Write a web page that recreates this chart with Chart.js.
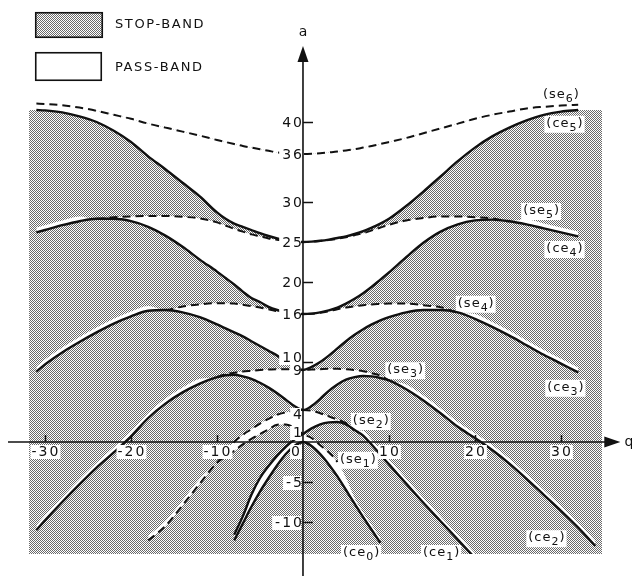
<!DOCTYPE html>
<html>
<head>
<meta charset="utf-8">
<title>Mathieu stability chart</title>
<script src="https://cdn.jsdelivr.net/npm/chart.js@4.4.1/dist/chart.umd.min.js"></script>
<style>
  html, body { margin: 0; padding: 0; background: #fff; }
  canvas { display: block; }
</style>
</head>
<body>
<canvas id="chart" width="632" height="576"></canvas>
<script>
const n = null;

// q sample points shared by every characteristic curve
const qGrid = [-31, -30, -28, -26, -24, -22, -20, -18, -16, -14, -12,
               -10, -9, -8, -7, -6, -5, -4, -3, -2, -1, 0, 1, 2, 3, 4, 5, 6, 7, 8, 9, 10,
               12, 14, 16, 18, 20, 22, 24, 26, 28, 30, 32, 34];

// characteristic values a(q) of the even (ce) and odd (se) Mathieu functions
const ce0 = [n, n, n, n, n, n, n, n, n, n, n,
             n, n, -12.3, -10.2, -8.1, -6.2, -4.5, -2.9, -1.5, -0.5, 0, -0.5, -1.5, -2.8, -4.3, -6.0, -7.7, -9.4, -11.0, -12.6, n,
             n, n, n, n, n, n, n, n, n, n, n, n];
const se1 = [n, n, n, n, n, n, n, -12.3, -10.5, -7.9, -5.2,
             -2.6, -1.8, -1.1, -0.3, 0.4, 1.0, 1.6, 2.15, 2.2, 1.8, 1, 0.5, -0.4, -1.3, -2.5, -4.5, -7.0, -8.8, -10.4, -12.0, n,
             n, n, n, n, n, n, n, n, n, n, n, n];
const ce1 = [n, n, n, n, n, n, n, n, n, n, n,
             n, n, -11.6, -9.3, -6.6, -4.5, -3.0, -1.7, -0.6, 0.3, 1, 1.7, 2.2, 2.45, 2.5, 2.2, 1.5, 0.8, -0.35, -1.6, -2.8,
             -5.2, -7.6, -9.9, -12.2, -14.5, n, n, n, n, n, n, n];
const se2 = [n, n, n, n, n, n, n, -11.7, -9.9, -7.3, -4.6,
             -2.6, -1.2, 0.0, 0.9, 1.6, 2.3, 2.9, 3.4, 3.7, 3.9, 4, 3.9, 3.6, 3.2, 2.8, 2.35, 1.5, 1.4, 0.25, -1.0, -2.2,
             -4.6, -7.0, -9.3, -11.6, -13.9, n, n, n, n, n, n, n];
const ce2 = [-11.0, -9.8, -7.5, -5.3, -3.2, -1.3, 0.7, 3.0, 4.8, 6.2, 7.3,
             8.1, 8.35, 8.4, 8.2, 7.9, 7.4, 6.8, 6.1, 5.3, 4.5, 4, 4.5, 5.4, 6.4, 7.2, 7.8, 8.1, 8.25, 8.2, 8.0, 7.7,
             6.6, 5.2, 3.6, 1.9, 0.5, -1.0, -2.7, -4.6, -6.6, -8.6, -10.7, -13.0];
const se3 = [-10.4, -9.2, -6.9, -4.7, -2.6, -0.7, 1.3, 3.6, 5.4, 6.8, 7.9,
             8.1, 8.5, 8.65, 8.8, 8.9, 9.0, 9.05, 9.1, 9.1, 9.05, 9, 9.05, 9.1, 9.15, 9.15, 9.1, 9.0, 8.85, 8.6, 8.3, 7.7,
             7.2, 5.8, 4.2, 2.5, 1.1, -0.4, -2.1, -4.0, -6.0, -8.0, -10.1, -12.4];
const ce3 = [8.8, 9.7, 11.2, 12.5, 13.7, 14.8, 15.7, 16.4, 16.5, 16.2, 15.6,
             14.7, 14.2, 13.7, 13.2, 12.6, 12.0, 11.4, 10.8, 10.1, 9.5, 9, 9.4, 10.0, 10.8, 11.7, 12.6, 13.4, 14.1, 14.7, 15.2, 15.6,
             16.2, 16.5, 16.5, 16.2, 15.4, 14.4, 13.3, 12.1, 10.9, 9.8, 8.7, n];
const se4 = [9.4, 10.3, 11.8, 13.1, 14.3, 15.4, 16.3, 17.0, 16.5, 16.95, 17.2,
             17.35, 17.35, 17.3, 17.15, 17.0, 16.8, 16.6, 16.35, 16.15, 16.03, 16, 16.03, 16.15, 16.35, 16.6, 16.8, 16.95, 17.1, 17.2, 17.25, 17.3,
             17.3, 17.1, 16.85, 16.2, 16.0, 15.0, 13.9, 12.7, 11.5, 10.4, 9.3, n];
const ce4 = [26.2, 26.5, 27.1, 27.6, 27.9, 27.9, 27.6, 26.9, 25.8, 24.4, 22.8,
             21.3, 20.5, 19.7, 18.8, 18.0, 17.5, 16.9, 16.5, 16.2, 16.05, 16, 16.05, 16.2, 16.45, 16.8, 17.3, 17.9, 18.6, 19.4, 20.3, 21.2,
             23.1, 24.9, 26.3, 27.2, 27.7, 27.8, 27.6, 27.2, 26.7, 26.2, 25.7, n];
const se5 = [26.8, 27.1, 27.7, 28.2, 27.9, 28.1, 28.2, 28.25, 28.25, 28.15, 27.95,
             27.45, 27.05, 26.65, 26.3, 25.95, 25.7, 25.45, 25.28, 25.12, 25.03, 25, 25.03, 25.12, 25.25, 25.4, 25.6, 25.85, 26.1, 26.45, 26.8, 27.15,
             27.7, 28.0, 28.2, 28.2, 28.1, 27.95, 27.6, 27.8, 27.3, 26.8, 26.3, n];
const ce5 = [41.5, 41.45, 41.2, 40.7, 40.0, 38.9, 37.5, 35.7, 34.1, 32.4, 30.7,
             28.7, 27.9, 27.3, 26.9, 26.5, 26.1, 25.75, 25.45, 25.2, 25.05, 25, 25.05, 25.15, 25.3, 25.5, 25.7, 26.0, 26.35, 26.8, 27.3, 27.9,
             29.5, 31.3, 33.2, 35.1, 36.8, 38.2, 39.3, 40.2, 40.9, 41.3, 41.5, n];
const se6 = [42.3, 42.25, 42.1, 41.8, 41.4, 40.9, 40.4, 39.8, 39.3, 38.8, 38.3,
             37.75, 37.5, 37.25, 37.0, 36.8, 36.6, 36.4, 36.2, 36.1, 36.03, 36, 36.03, 36.1, 36.2, 36.3, 36.45, 36.6, 36.8, 37.0, 37.25, 37.5,
             38.0, 38.6, 39.2, 39.8, 40.4, 40.9, 41.3, 41.7, 41.9, 42.05, 42.15, n];

const curves = { ce0, se1, ce1, se2, ce2, se3, ce3, se4, ce4, se5, ce5, se6 };
const curveOrder = ['ce0', 'se1', 'ce1', 'se2', 'ce2', 'se3', 'ce3', 'se4', 'ce4', 'se5', 'ce5', 'se6'];

// q-range where each dashed curve is drawn; past it the curve runs along its solid neighbour
const dashedSpan = { se1: [-18, 4], se2: [-10, 6], se3: [-10, 10], se4: [-16, 18], se5: [-24, 24], se6: [-31, 32] };

// unshaded regions: [upper curve, lower curve or 'end' for the top edge, side of the a-axis]
const passBands = [
  ['se1', 'ce0', 'right'], ['ce1', 'ce0', 'left'],
  ['se2', 'se1', 'left'], ['se2', 'ce1', 'right'],
  ['se3', 'ce2', 'both'], ['se4', 'ce3', 'both'],
  ['se5', 'ce4', 'both'], ['se6', 'ce5', 'both'],
  ['se6', 'end', 'both']
];

// axis annotation
const yTickLabels = [40, 36, 30, 25, 20, 16, 10, 9, 4, 1, -5, -10];
const yTickMarks = [40, 30, 20, 10, -5, -10];
const xTickLabels = [-30, -20, -10, 0, 10, 20, 30];
const xTickMarks = [-30, -20, -10, 10, 20, 30];
const axisNames = { y: 'a', x: 'q' };
const legendLabels = ['STOP-BAND', 'PASS-BAND'];

// curve names, anchored at (q, a) of the label's left edge / baseline
const curveLabels = [
  { name: 'se', sub: '6', q: 27.9, a: 43.0 },
  { name: 'ce', sub: '5', q: 28.3, a: 39.4 },
  { name: 'se', sub: '5', q: 25.6, a: 28.5 },
  { name: 'ce', sub: '4', q: 28.3, a: 23.75 },
  { name: 'se', sub: '4', q: 18.0, a: 16.9 },
  { name: 'ce', sub: '3', q: 28.4, a: 6.4 },
  { name: 'se', sub: '3', q: 9.8, a: 8.6 },
  { name: 'se', sub: '2', q: 5.8, a: 2.25 },
  { name: 'se', sub: '1', q: 4.3, a: -2.6 },
  { name: 'ce', sub: '0', q: 4.65, a: -14.25 },
  { name: 'ce', sub: '1', q: 13.95, a: -14.25 },
  { name: 'ce', sub: '2', q: 26.2, a: -12.4 }
];

const INK = '#111111';
const HIDDEN = 'rgba(0,0,0,0)';
const FONT = '"DejaVu Sans", "Liberation Sans", sans-serif';

// stop-band stipple: a fine checker of grey dots
function makeStipple(ctx) {
  const tile = document.createElement('canvas');
  tile.width = 2; tile.height = 2;
  const t = tile.getContext('2d');
  t.fillStyle = '#ffffff'; t.fillRect(0, 0, 2, 2);
  t.fillStyle = '#6a6a6a'; t.fillRect(0, 0, 1, 1); t.fillRect(1, 1, 1, 1);
  return ctx.createPattern(tile, 'repeat');
}

function points(values, side) {
  const out = [];
  qGrid.forEach((q, i) => {
    const a = values[i];
    if (a === null) return;
    if (side === 'left' && q > 0) return;
    if (side === 'right' && q < 0) return;
    out.push({ x: q, y: a });
  });
  return out;
}

const datasets = curveOrder.map(name => {
  const dashed = name.startsWith('se');
  const ds = {
    label: name,
    data: points(curves[name], 'both'),
    borderColor: INK,
    borderWidth: dashed ? 2.0 : 2.4,
    borderDash: dashed ? [8, 5] : [],
    pointRadius: 0,
    fill: false,
    cubicInterpolationMode: 'monotone',
    clip: { left: 0, right: 0, top: 60, bottom: 0 }
  };
  if (dashed) {
    const span = dashedSpan[name];
    ds.segment = {
      borderColor: c => (c.p0.parsed.x < span[0] - 1e-6 || c.p1.parsed.x > span[1] + 1e-6) ? HIDDEN : INK
    };
  }
  return ds;
});

passBands.forEach(([upper, lower, side]) => {
  datasets.push({
    label: upper + '-' + lower,
    data: points(curves[upper], side),
    borderColor: HIDDEN,
    borderWidth: 1,
    backgroundColor: '#ffffff',
    pointRadius: 0,
    fill: lower === 'end' ? 'end' : curveOrder.indexOf(lower),
    cubicInterpolationMode: 'monotone'
  });
});

function whiteBox(ctx, x, y, w, h) {
  ctx.fillStyle = '#ffffff';
  ctx.fillRect(x, y, w, h);
}

function curveLabelMetrics(ctx, lab) {
  ctx.letterSpacing = '1px';
  ctx.font = '13px ' + FONT;
  const w1 = ctx.measureText('(' + lab.name).width;
  const w3 = ctx.measureText(')').width;
  ctx.font = '11px ' + FONT;
  const w2 = ctx.measureText(lab.sub).width;
  return { w1, w2, w3, w: w1 + w2 + w3 };
}

const decor = {
  id: 'decor',
  beforeDraw(chart) {
    const { ctx, chartArea: ar } = chart;
    chart.$stipple = chart.$stipple || makeStipple(ctx);
    ctx.save();
    ctx.fillStyle = chart.$stipple;
    ctx.fillRect(ar.left, ar.top, ar.right - ar.left, ar.bottom - ar.top);
    ctx.restore();
  },
  beforeDatasetsDraw(chart) {
    // clear the stipple behind the curve names
    const { ctx, scales: { x, y } } = chart;
    ctx.save();
    curveLabels.forEach(lab => {
      const m = curveLabelMetrics(ctx, lab);
      const px = x.getPixelForValue(lab.q), py = y.getPixelForValue(lab.a);
      whiteBox(ctx, px - 2, py - 11, m.w + 3, 17);
    });
    ctx.restore();
  },
  afterDatasetsDraw(chart) {
    const { ctx, scales: { x, y } } = chart;
    const x0 = x.getPixelForValue(0), y0 = y.getPixelForValue(0);
    ctx.save();
    ctx.strokeStyle = INK; ctx.fillStyle = INK;

    // a-axis with arrow
    ctx.lineWidth = 1.6;
    ctx.beginPath();
    ctx.moveTo(x0, y.getPixelForValue(47.6));
    ctx.lineTo(x0, y.getPixelForValue(-17));
    ctx.stroke();
    const tipY = y.getPixelForValue(49.5);
    ctx.beginPath();
    ctx.moveTo(x0, tipY); ctx.lineTo(x0 - 5.5, tipY + 16); ctx.lineTo(x0 + 5.5, tipY + 16); ctx.closePath(); ctx.fill();

    // q-axis with arrow
    ctx.beginPath();
    ctx.moveTo(x.getPixelForValue(-34.3), y0);
    ctx.lineTo(x.getPixelForValue(35.2), y0);
    ctx.stroke();
    const tipX = x.getPixelForValue(36.9);
    ctx.beginPath();
    ctx.moveTo(tipX, y0); ctx.lineTo(tipX - 16, y0 - 5.5); ctx.lineTo(tipX - 16, y0 + 5.5); ctx.closePath(); ctx.fill();

    // tick marks
    ctx.lineWidth = 1.5;
    yTickMarks.forEach(v => {
      const py = Math.round(y.getPixelForValue(v)) + 0.5;
      ctx.beginPath(); ctx.moveTo(x0, py); ctx.lineTo(x0 + 10, py); ctx.stroke();
    });
    xTickMarks.forEach(v => {
      const px = Math.round(x.getPixelForValue(v)) + 0.5;
      ctx.beginPath(); ctx.moveTo(px, y0); ctx.lineTo(px, y0 - 7); ctx.stroke();
    });

    // tick labels
    ctx.font = '14px ' + FONT;
    ctx.letterSpacing = '2px';
    ctx.textBaseline = 'middle';
    const yNudge = { 10: -5, 4: 4, 1: -2 };
    yTickLabels.forEach(v => {
      const txt = String(v);
      const w = ctx.measureText(txt).width;
      const py = y.getPixelForValue(v) + 1 + (yNudge[v] || 0);
      whiteBox(ctx, x0 - w - 2, py - 7, w, 14);
      ctx.fillStyle = INK;
      ctx.textAlign = 'right';
      ctx.fillText(txt, x0 + 1, py);
    });
    xTickLabels.forEach(v => {
      const txt = String(v);
      const w = ctx.measureText(txt).width;
      const py = y0 + 10;
      let left = x.getPixelForValue(v) - w / 2 + 1;
      if (v === 0) left = x0 - w - 1;
      whiteBox(ctx, left - 1, py - 7, w + 1, 14);
      ctx.fillStyle = INK;
      ctx.textAlign = 'left';
      ctx.fillText(txt, left, py);
    });

    // axis names
    ctx.letterSpacing = '0px';
    ctx.font = '14px ' + FONT;
    ctx.textAlign = 'center';
    ctx.fillText(axisNames.y, x0, y.getPixelForValue(51.2));
    ctx.textAlign = 'left';
    ctx.fillText(axisNames.x, x.getPixelForValue(37.4), y0);

    // curve names with subscripts
    ctx.textAlign = 'left';
    ctx.textBaseline = 'alphabetic';
    curveLabels.forEach(lab => {
      const m = curveLabelMetrics(ctx, lab);
      const px = x.getPixelForValue(lab.q), py = y.getPixelForValue(lab.a);
      ctx.fillStyle = INK;
      ctx.font = '13px ' + FONT;
      ctx.fillText('(' + lab.name, px, py);
      ctx.font = '11px ' + FONT;
      ctx.fillText(lab.sub, px + m.w1, py + 4);
      ctx.font = '13px ' + FONT;
      ctx.fillText(')', px + m.w1 + m.w2, py);
    });

    // legend
    ctx.letterSpacing = '0px';
    ctx.lineWidth = 1.6;
    ctx.fillStyle = chart.$stipple;
    ctx.fillRect(35, 12, 68, 26);
    ctx.strokeRect(35.75, 12.75, 66.5, 24.5);
    ctx.fillStyle = '#ffffff';
    ctx.fillRect(35, 52, 67, 29);
    ctx.strokeRect(35.75, 52.75, 65.5, 27.5);
    ctx.fillStyle = INK;
    ctx.font = '13px ' + FONT;
    ctx.letterSpacing = '1.6px';
    ctx.textBaseline = 'middle';
    ctx.fillText(legendLabels[0], 115, 25);
    ctx.fillText(legendLabels[1], 115, 67.5);
    ctx.restore();
  }
};

new Chart(document.getElementById('chart'), {
  type: 'line',
  data: { datasets },
  options: {
    responsive: false,
    animation: false,
    events: [],
    layout: { padding: { left: 29, right: 30, top: 110, bottom: 22 } },
    scales: {
      x: { type: 'linear', min: -31.86, max: 34.77, display: false },
      y: { type: 'linear', min: -14, max: 41.5, display: false }
    },
    plugins: {
      legend: { display: false },
      tooltip: { enabled: false },
      filler: { drawTime: 'beforeDatasetsDraw' }
    }
  },
  plugins: [decor]
});
</script>
</body>
</html>
